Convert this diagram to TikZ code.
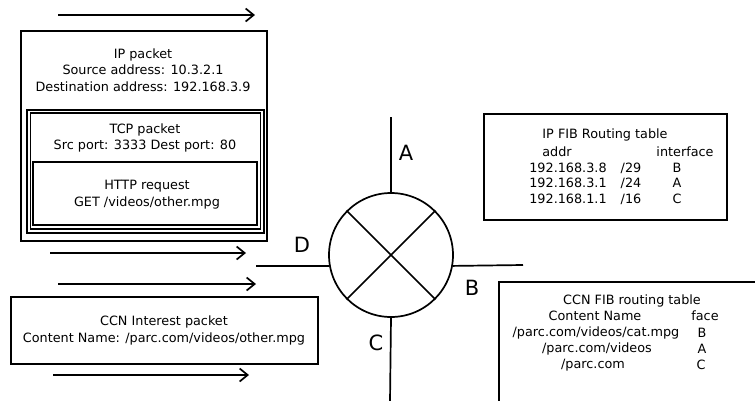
\documentclass[tikz,border=0pt]{standalone}
\usepackage{fontspec}
\setmainfont{DejaVu Sans}
\usetikzlibrary{arrows.meta}

\begin{document}
\begin{tikzpicture}[
  x=1pt, y=-1pt,
  box/.style={draw, line width=1.7pt, inner sep=0pt},
  txt/.style={align=center, inner sep=0pt,
              font=\fontsize{12.8}{16.5}\selectfont},
  cell/.style={inner sep=0pt, font=\fontsize{12.8}{16}\selectfont},
  port/.style={inner sep=0pt, font=\fontsize{21}{21}\selectfont},
  wire/.style={line width=1.7pt},
  flow/.style={line width=1.7pt,
               -{Straight Barb[length=8pt,width=13pt,line width=1.7pt]}}
]
\useasboundingbox (0,0) rectangle (755,400);
\clip (0,0) rectangle (755,400);

% packets
\node[box, minimum width=246pt, minimum height=210pt] (ip)    at (144,136) {};
\node[box, minimum width=237pt, minimum height=123pt] (tcp)   at (145.5,171.5) {};
\node[box, minimum width=230pt, minimum height=116pt] (tcpin) at (145.6,171.2) {};
\node[box, minimum width=224pt, minimum height=63pt]  (http)  at (144.8,193.8) {};
\node[box, minimum width=307pt, minimum height=67pt]  (ccn)   at (164.5,330.5) {};

\node[txt] (iptxt)   at (143,70)  {IP packet\\Source address: 10.3.2.1\\Destination address: 192.168.3.9};
\node[txt] (tcptxt)  at (145,138) {TCP packet\\Src port: 3333 Dest port: 80};
\node[txt] (httptxt) at (147,194.5) {HTTP request\\GET /videos/other.mpg};
\node[txt] (ccntxt)  at (164,330.5) {CCN Interest packet\\Content Name: /parc.com/videos/other.mpg};

% packet flow
\foreach \n/\xa/\xb/\yy in {1/58/255/15, 2/50/246/253, 3/58/256/284, 4/53/249/375} {
  \coordinate (f\n s) at (\xa,\yy);
  \coordinate (f\n e) at (\xb,\yy);
  \draw[flow] (f\n s) -- (f\n e);
}

% router
\node[draw, circle, line width=1.7pt, minimum size=124pt, inner sep=0pt] (router) at (391,255) {};
\draw[wire] (router.45) -- (router.225);
\draw[wire] (router.135) -- (router.-45);
\coordinate (aend) at (391,117);
\coordinate (cend) at (390,402);
\coordinate (dend) at (256,266);
\coordinate (bend) at (523,265);
\draw[wire] (router.north) -- (aend);
\draw[wire] (router.south) -- (cend);
\draw[wire] (router.190) -- (dend);
\draw[wire] (router.-10) -- (bend);
\node[port] (pa) at (406,153) {A};
\node[port] (pb) at (472,288) {B};
\node[port] (pc) at (376,343) {C};
\node[port] (pd) at (302,245) {D};

% IP FIB
\node[box, minimum width=243pt, minimum height=106pt] (ipfib) at (605.5,167) {};
\node[cell] (ipfibt) at (605,135) {IP FIB Routing table};
\node[cell] (ipaddr) at (557,152) {addr};
\node[cell] (ipif)   at (685,152) {interface};
\foreach \y/\a/\m/\f in {168/192.168.3.8/29/B, 183/192.168.3.1/24/A, 199/192.168.1.1/16/C} {
  \node[cell] (ipa\f) at (568,\y) {\a};
  \node[cell] (ipm\f) at (631,\y) {/\m};
  \node[cell] (ipf\f) at (677,\y) {\f};
}

% CCN FIB
\node[box, minimum width=261pt, minimum height=122pt] (ccnfib) at (629.5,343) {};
\node[cell] (ccnfibt) at (632,301) {CCN FIB routing table};
\node[cell] (ccnname) at (595,316) {Content Name};
\node[cell] (ccnface) at (705,316) {face};
\node[cell] (ccnpB) at (596,333) {/parc.com/videos/cat.mpg};
\node[cell] (ccnfB) at (702,333) {B};
\node[cell] (ccnpA) at (597,349) {/parc.com/videos};
\node[cell] (ccnfA) at (702,349) {A};
\node[cell] (ccnpC) at (593,365) {/parc.com};
\node[cell] (ccnfC) at (701,365) {C};
\end{tikzpicture}
\end{document}
